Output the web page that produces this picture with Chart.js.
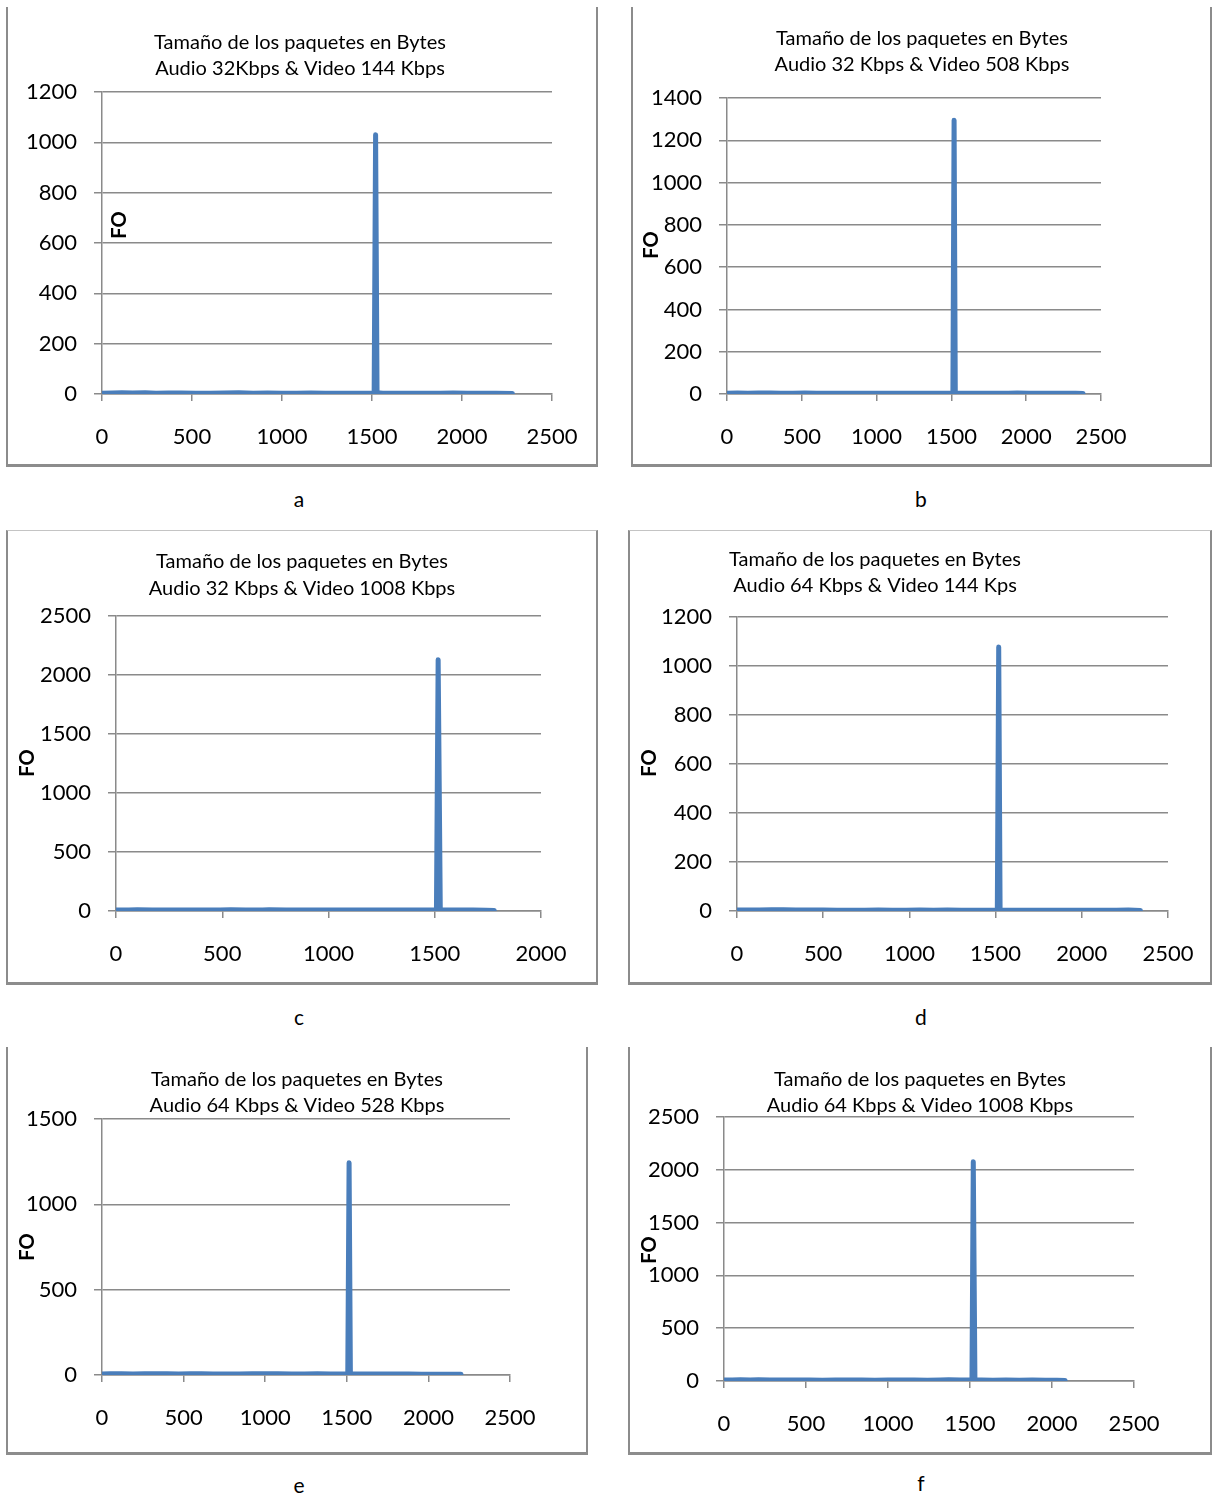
<!DOCTYPE html>
<html>
<head>
<meta charset="utf-8">
<title>Tamaño de los paquetes en Bytes</title>
<script src="https://cdn.jsdelivr.net/npm/chart.js@4.4.1/dist/chart.umd.min.js"></script>
<style>
  html, body { margin: 0; padding: 0; background: #fff; }
  body { position: relative; width: 1212px; height: 1497px; overflow: hidden; font-family: Lato, "Open Sans", sans-serif; }
  .frame { position: absolute; box-sizing: border-box; border-left: 2px solid #8c8c8c; border-right: 2px solid #8c8c8c; border-bottom: 3px solid #8c8c8c; }
  .frame.closed { border-top: 1px solid #c4c4c4; }
  .cap { position: absolute; font-size: 21px; color: #000; transform: translate(-50%, -50%); line-height: 1; }
  canvas { position: absolute; }
</style>
</head>
<body>
<script>
// Packet size (bytes) vs. observed frequency (FO) for each audio/video bitrate pair.

// a: Audio 32 Kbps & Video 144 Kbps
const sizeA = [0, 60, 110, 170, 240, 300, 370, 440, 520, 600, 680, 760, 840, 920, 1000, 1080, 1160, 1240, 1320, 1400, 1470, 1512, 1520, 1528, 1560, 1640, 1720, 1800, 1880, 1950, 2030, 2110, 2190, 2280];
const freqA = [3, 4, 5, 4, 5, 3, 4, 4, 3, 3, 4, 5, 3, 4, 3, 3, 4, 3, 3, 3, 3, 4, 1030, 5, 3, 3, 3, 3, 3, 4, 3, 3, 3, 2];

// b: Audio 32 Kbps & Video 508 Kbps
const sizeB = [0, 70, 140, 210, 290, 360, 440, 520, 600, 680, 760, 840, 920, 1000, 1080, 1160, 1240, 1320, 1400, 1470, 1510, 1518, 1526, 1560, 1640, 1720, 1800, 1880, 1940, 2020, 2100, 2180, 2260, 2330, 2380];
const freqB = [4, 5, 4, 5, 5, 4, 4, 5, 4, 3, 4, 4, 3, 4, 4, 3, 4, 3, 4, 3, 4, 1295, 5, 4, 3, 4, 3, 4, 5, 4, 3, 4, 3, 4, 2];

// c: Audio 32 Kbps & Video 1008 Kbps
const sizeC = [0, 60, 100, 170, 250, 330, 410, 490, 540, 610, 690, 720, 800, 880, 960, 1040, 1120, 1200, 1280, 1360, 1440, 1508, 1516, 1526, 1560, 1620, 1680, 1740, 1780];
const freqC = [8, 9, 11, 9, 8, 9, 9, 8, 11, 9, 8, 10, 9, 8, 9, 8, 9, 8, 9, 8, 9, 10, 2130, 10, 9, 8, 9, 7, 4];

// d: Audio 64 Kbps & Video 144 Kps
const sizeD = [0, 60, 130, 200, 270, 340, 420, 500, 580, 660, 740, 820, 900, 980, 1060, 1140, 1220, 1300, 1380, 1450, 1510, 1518, 1526, 1560, 1640, 1720, 1800, 1880, 1960, 2040, 2120, 2200, 2270, 2340];
const freqD = [4, 4, 4, 5, 5, 4, 4, 4, 3, 3, 3, 4, 3, 3, 4, 3, 4, 3, 3, 3, 4, 1078, 4, 3, 3, 3, 3, 3, 3, 3, 3, 3, 4, 2];

// e: Audio 64 Kbps & Video 528 Kbps
const sizeE = [0, 50, 120, 190, 260, 330, 400, 470, 540, 610, 680, 760, 840, 920, 1000, 1080, 1160, 1240, 1320, 1400, 1460, 1506, 1514, 1522, 1560, 1640, 1720, 1800, 1880, 1960, 2040, 2120, 2200];
const freqE = [6, 7, 7, 6, 7, 7, 7, 6, 7, 7, 6, 6, 6, 7, 7, 7, 6, 6, 7, 6, 6, 6, 1244, 7, 6, 6, 6, 6, 6, 5, 5, 5, 4];

// f: Audio 64 Kbps & Video 1008 Kbps
const sizeF = [0, 50, 100, 160, 210, 280, 360, 440, 520, 600, 680, 760, 840, 920, 1000, 1080, 1160, 1240, 1320, 1370, 1440, 1512, 1520, 1530, 1570, 1640, 1720, 1800, 1880, 1960, 2030, 2080];
const freqF = [9, 10, 12, 9, 11, 9, 9, 9, 9, 8, 9, 9, 9, 8, 9, 9, 9, 8, 9, 11, 9, 9, 2077, 10, 9, 8, 9, 8, 9, 8, 7, 4];

// Axis tick values
const xTicks2500 = [0, 500, 1000, 1500, 2000, 2500];
const xTicks2000 = [0, 500, 1000, 1500, 2000];
const yTicksA = [0, 200, 400, 600, 800, 1000, 1200];
const yTicksB = [0, 200, 400, 600, 800, 1000, 1200, 1400];
const yTicksC = [0, 500, 1000, 1500, 2000, 2500];
const yTicksD = [0, 200, 400, 600, 800, 1000, 1200];
const yTicksE = [0, 500, 1000, 1500];
const yTicksF = [0, 500, 1000, 1500, 2000, 2500];

// Titles, axis name and panel letters
const titleLine1 = 'Tamaño de los paquetes en Bytes';
const titleLine2 = [
  'Audio 32Kbps & Video 144 Kbps',
  'Audio 32 Kbps & Video 508 Kbps',
  'Audio 32 Kbps & Video 1008 Kbps',
  'Audio 64 Kbps & Video 144 Kps',
  'Audio 64 Kbps & Video 528 Kbps',
  'Audio 64 Kbps & Video 1008 Kbps'
];
const yAxisName = 'FO';
const panelLetters = ['a', 'b', 'c', 'd', 'e', 'f'];

// Layout of the six framed panels (page pixels)
const panels = [
  { sizes: sizeA, freqs: freqA, xt: xTicks2500, yt: yTicksA, box: [6, 7, 592, 460],    closed: false, plot: [102, 92, 552, 394],    title: [300, 43, 69],     fo: [120, 225],  cap: [299, 498] },
  { sizes: sizeB, freqs: freqB, xt: xTicks2500, yt: yTicksB, box: [631, 7, 581, 460],  closed: false, plot: [727, 98, 1101, 394],   title: [922, 39, 65],     fo: [652, 245],  cap: [921, 498] },
  { sizes: sizeC, freqs: freqC, xt: xTicks2000, yt: yTicksC, box: [6, 530, 592, 455],  closed: true,  plot: [116, 616, 541, 911],   title: [302, 562, 589],   fo: [28, 763],   cap: [299, 1016] },
  { sizes: sizeD, freqs: freqD, xt: xTicks2500, yt: yTicksD, box: [628, 530, 584, 455], closed: true, plot: [737, 617, 1168, 911],  title: [875, 560, 586],   fo: [650, 763],  cap: [921, 1016] },
  { sizes: sizeE, freqs: freqE, xt: xTicks2500, yt: yTicksE, box: [6, 1047, 582, 408], closed: false, plot: [102, 1119, 510, 1375], title: [297, 1080, 1106], fo: [28, 1247],  cap: [299, 1484] },
  { sizes: sizeF, freqs: freqF, xt: xTicks2500, yt: yTicksF, box: [628, 1047, 584, 408], closed: false, plot: [724, 1117, 1134, 1381], title: [920, 1080, 1106], fo: [650, 1250], cap: [921, 1482] }
];

const GRID = '#8a8a8a';
const LINE = '#4a7ebb';
const FONT = 'Lato, "Open Sans", sans-serif';

// Draws the two-line title and the rotated "FO" axis name onto each chart canvas
const panelText = {
  id: 'panelText',
  afterDraw(chart, args, opts) {
    const ctx = chart.ctx;
    ctx.save();
    ctx.fillStyle = '#000';
    ctx.textAlign = 'center';
    ctx.textBaseline = 'middle';
    ctx.font = '20px ' + FONT;
    opts.lines.forEach((t, i) => ctx.fillText(t, opts.cx, opts.ys[i]));
    ctx.translate(opts.fo[0], opts.fo[1]);
    ctx.rotate(-Math.PI / 2);
    ctx.font = 'bold 20px ' + FONT;
    ctx.fillText(yAxisName, 0, 0);
    ctx.restore();
  }
};

function buildPanel(p, i) {
  const [bx, by, bw, bh] = p.box;
  const [pl, pt, pr, pb] = p.plot;

  const frame = document.createElement('div');
  frame.className = 'frame' + (p.closed ? ' closed' : '');
  frame.style.cssText = `left:${bx}px;top:${by}px;width:${bw}px;height:${bh}px;`;
  document.body.appendChild(frame);

  const cap = document.createElement('div');
  cap.className = 'cap';
  cap.style.left = p.cap[0] + 'px';
  cap.style.top = p.cap[1] + 'px';
  cap.textContent = panelLetters[i];
  document.body.appendChild(cap);

  const cv = document.createElement('canvas');
  cv.width = bw; cv.height = bh;
  cv.style.cssText = `left:${bx}px;top:${by}px;width:${bw}px;height:${bh}px;`;
  document.body.appendChild(cv);

  const tickFont = { family: FONT, size: 22 };
  const plain = v => String(v);
  new Chart(cv, {
    type: 'line',
    data: {
      datasets: [{
        data: p.sizes.map((s, k) => ({ x: s, y: p.freqs[k] })),
        borderColor: LINE,
        borderWidth: 5,
        pointRadius: 0,
        borderJoinStyle: 'round',
        borderCapStyle: 'round',
        tension: 0,
        fill: false
      }]
    },
    options: {
      responsive: false,
      animation: false,
      devicePixelRatio: 1,
      layout: { padding: { left: 0, top: pt - by, right: bx + bw - pr, bottom: 0 } },
      plugins: {
        legend: { display: false },
        tooltip: { enabled: false },
        title: { display: false },
        panelText: {
          lines: [titleLine1, titleLine2[i]],
          cx: p.title[0] - bx,
          ys: [p.title[1] - by, p.title[2] - by],
          fo: [p.fo[0] - bx, p.fo[1] - by]
        }
      },
      scales: {
        x: {
          type: 'linear',
          min: p.xt[0],
          max: p.xt[p.xt.length - 1],
          afterBuildTicks: s => { s.ticks = p.xt.map(v => ({ value: v })); },
          ticks: { font: tickFont, color: '#000', padding: 23, maxRotation: 0, autoSkip: false, callback: plain },
          grid: { drawOnChartArea: false, drawTicks: true, tickLength: 7, color: GRID, lineWidth: 1.5 },
          border: { display: true, color: GRID, width: 1.5 },
          afterFit: s => { s.height = by + bh - pb; s.paddingLeft = 0; s.paddingRight = 0; }
        },
        y: {
          type: 'linear',
          min: p.yt[0],
          max: p.yt[p.yt.length - 1],
          afterBuildTicks: s => { s.ticks = p.yt.map(v => ({ value: v })); },
          ticks: { font: tickFont, color: '#000', padding: 17, autoSkip: false, callback: plain },
          grid: { drawTicks: true, tickLength: 8, color: GRID, lineWidth: 1.5 },
          border: { display: true, color: GRID, width: 1.5 },
          afterFit: s => { s.width = pl - bx; s.paddingTop = 0; s.paddingBottom = 0; }
        }
      }
    },
    plugins: [panelText]
  });
}

function start() { panels.forEach(buildPanel); }
if (document.fonts && document.fonts.load) {
  Promise.all([document.fonts.load('22px Lato'), document.fonts.load('bold 20px Lato'), document.fonts.load('20px Lato')]).then(start, start);
} else {
  start();
}
</script>
</body>
</html>
